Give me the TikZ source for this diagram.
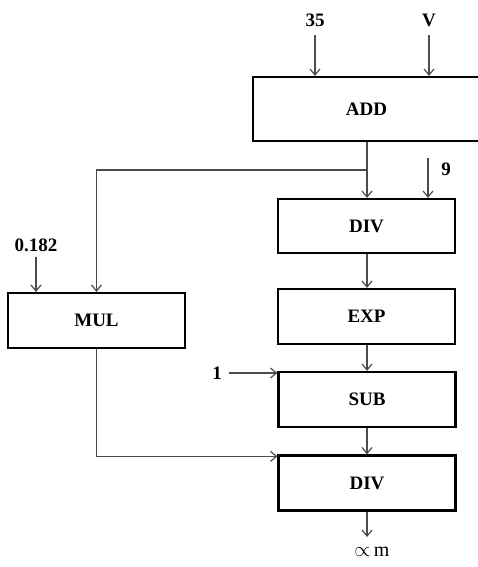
\documentclass[tikz,border=0pt]{standalone}
\usepackage{fontspec}
\setmainfont{Liberation Serif}
\usetikzlibrary{arrows.meta,positioning,calc}
\tikzset{
  opbox/.style={
    rectangle,
    draw=black,
    line width=2.2pt,
    minimum width=177pt,
    minimum height=55pt,
    align=center,
    font=\fontsize{19}{21}\selectfont\bfseries,
    fill=white
  },
  inlabel/.style={
    font=\fontsize{19}{21}\selectfont\bfseries,
    inner sep=3pt
  },
  flow/.style={-{Straight Barb[length=6pt,width=10pt]}, line width=1.2pt, black!70}
}
\begin{document}
\begin{tikzpicture}[x=1pt,y=-1pt]
\useasboundingbox (0,0) rectangle (478,567);
% operator boxes
\node[opbox, minimum width=227pt, minimum height=64pt] (add) at (366.5,109) {ADD};
\node[opbox, minimum height=54pt] (div1) at (366.5,226) {DIV};
\node[opbox] (exp) at (366.5,316.5) {EXP};
\node[opbox] (sub) at (367,399.5) {SUB};
\node[opbox] (div2) at (367,483) {DIV};
\node[opbox] (mul) at (96.5,320.5) {MUL};
% inputs
\node[inlabel] (in35) at (315,20.5) {35};
\node[inlabel] (inv) at (429,20.5) {V};
\node[inlabel] (in9) at (446,169) {9};
\coordinate (c9) at (428,158);
\node[inlabel] (inmul) at (36,245) {0.182};
\node[inlabel] (in1) at (217,373) {1};
\coordinate (split) at (367,170);
\node[font=\fontsize{20}{22}\selectfont] (out) at (372,552) {$\propto$\,m};
\coordinate (cout) at (367,537);
% connectors
\draw[flow] (in35.south) ++(0,5) -- (add.north -| in35);
\draw[flow] (inv.south) ++(0,5) -- (add.north -| inv);
\draw[flow] (add.south -| split) -- (div1.north -| split);
\draw[flow] (split) -| (mul.north);
\draw[flow] (c9) -- (div1.north -| c9);
\draw[flow] (inmul.south) ++(0,2) -- (mul.north -| inmul);
\draw[flow] (div1.south -| split) -- (exp.north -| split);
\draw[flow] (exp.south -| split) -- (sub.north -| split);
\draw[flow] (in1.east) ++(4,0) -- (sub.west |- in1);
\draw[flow] (sub.south -| split) -- (div2.north -| split);
\draw[flow] (mul.south) |- ($(div2.north west)+(0,2)$);
\draw[flow] (div2.south -| split) -- (cout);
\end{tikzpicture}
\end{document}
